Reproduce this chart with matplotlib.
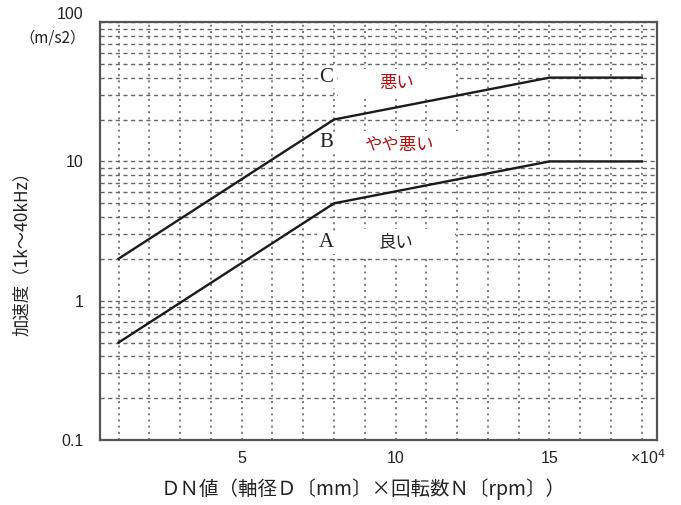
import numpy as np
import matplotlib.pyplot as plt
from matplotlib.ticker import FixedLocator, LogLocator, NullFormatter

plt.rcParams['font.family'] = ['Noto Sans CJK JP', 'DejaVu Sans']

# DN値 (x10^4) と加速度の境界線
dn = [1, 8, 15, 18]
line_bc = [2, 20, 40, 40]
line_ab = [0.5, 5, 10, 10]

zone_letters = ['C', 'B', 'A']
zone_letter_x = [7.75, 7.75, 7.75]
zone_letter_y = [40.4, 13.6, 2.6]

zone_names = ['悪い', 'やや悪い', '良い']
zone_colors = ['#b01010', '#b01010', '#222222']
zone_x = [10.05, 10.15, 10.03]
zone_y = [36.6, 13.1, 2.6]

xticks = [5, 10, 15]
yticks = [0.1, 1, 10, 100]
ytick_labels = ['0.1', '1', '10', '100']

fig = plt.figure(figsize=(6.81, 5.05), dpi=100)
ax = fig.add_axes([0.147, 0.129, 0.818, 0.827])

ax.set_yscale('log')
ax.set_xlim(0.4, 18.5)
ax.set_ylim(0.1, 100)

# 格子
ax.xaxis.set_minor_locator(FixedLocator(np.arange(1, 19)))
ax.yaxis.set_minor_locator(LogLocator(base=10, subs=np.arange(2, 10)))
ax.yaxis.set_minor_formatter(NullFormatter())
ax.grid(True, which='both', axis='x', color='#666666', linestyle=(0, (1.2, 2.5)), linewidth=1.2)
ax.grid(True, which='both', axis='y', color='#666666', linestyle=(0, (3, 2.5)), linewidth=1.0)
ax.set_axisbelow(True)

ax.plot(dn, line_bc, color='#1a1a1a', linewidth=1.7, zorder=5)
ax.plot(dn, line_ab, color='#1a1a1a', linewidth=1.7, zorder=5)

for t, x, y in zip(zone_letters, zone_letter_x, zone_letter_y):
    ax.text(x, y, t, fontsize=15, family='Liberation Serif', color='#222222',
            ha='center', va='center', zorder=4,
            bbox=dict(facecolor='white', edgecolor='none', pad=1))

labels = []
for t, c, x, y in zip(zone_names, zone_colors, zone_x, zone_y):
    labels.append(ax.text(x, y, t, fontsize=12.5, color=c, ha='center', va='center', zorder=3))

ax.set_xticks(xticks)
ax.set_xticklabels([str(v) for v in xticks])
ax.set_yticks(yticks)
ax.set_yticklabels(ytick_labels)
ax.tick_params(axis='both', which='both', length=0, labelsize=11.5, colors='#222222')
ax.tick_params(axis='y', pad=12)
ax.tick_params(axis='x', pad=8)
for lab in ax.get_yticklabels() + ax.get_xticklabels():
    lab.set_family('Liberation Sans')
ax.get_yticklabels()[-1].set_va('bottom')

for s in ax.spines.values():
    s.set_color('#555555')
    s.set_linewidth(1.6)

ax.annotate('×10$^4$', xy=(18.2, 0), xycoords=('data', 'axes fraction'),
            xytext=(0, -13), textcoords='offset points',
            fontsize=11.5, family='Liberation Sans', color='#222222', ha='center', va='center')

fig.text(0.077, 0.925, '（m/s2）', fontsize=11, ha='center', va='center', color='#222222')

ax.set_ylabel('加速度（1k～40kHz）', fontsize=12.5, color='#222222')
ax.yaxis.set_label_coords(-0.124, 0.455)
ax.set_xlabel('ＤＮ値（軸径Ｄ〔mm〕×回転数Ｎ〔rpm〕）', fontsize=14, color='#222222')
ax.xaxis.set_label_coords(0.472, -0.093)

# 白抜きの枠 (幅約118px, 高さ約28px)
fig.canvas.draw()
renderer = fig.canvas.get_renderer()
for t in labels:
    ext = t.get_window_extent(renderer)
    fs_px = t.get_size() * fig.dpi / 72
    pad_x = max((118 - ext.width) / 2, 2)
    pad_y = max((28 - ext.height) / 2, 1)
    t.set_bbox(dict(facecolor='white', edgecolor='none',
                    boxstyle='square,pad=%.3f' % (pad_x / fs_px),
                    mutation_aspect=pad_y / pad_x))

fig.savefig('out.png', dpi=100)
